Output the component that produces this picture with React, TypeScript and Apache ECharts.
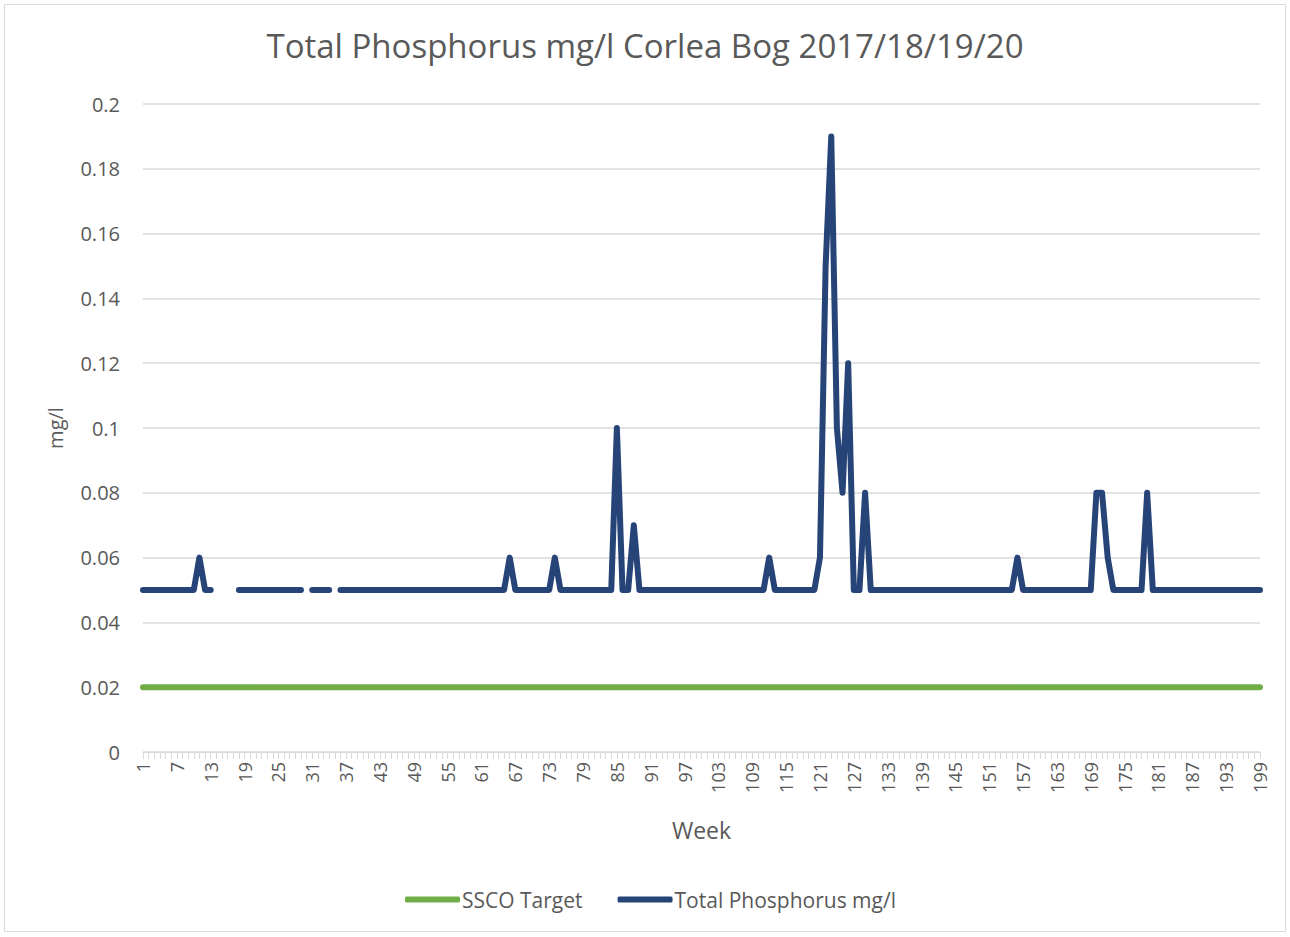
import React, { useEffect, useRef } from "react";
import * as echarts from "echarts";

const title = "Total Phosphorus mg/l Corlea Bog 2017/18/19/20";
const yAxisName = "mg/l";
const xAxisName = "Week";
const seriesNames = ["SSCO Target", "Total Phosphorus mg/l"];

// Weeks 1..199
const weeks: string[] = Array.from({ length: 199 }, (_, i) => String(i + 1));

// Total Phosphorus mg/l, weeks 1..199 (null = no sample)
const phosphorus: (number | null)[] = [
  0.05, 0.05, 0.05, 0.05, 0.05, 0.05, 0.05, 0.05, 0.05, 0.05, // 1-10
  0.06, 0.05, 0.05, null, null, null, null, 0.05, 0.05, 0.05, // 11-20
  0.05, 0.05, 0.05, 0.05, 0.05, 0.05, 0.05, 0.05, 0.05, null, // 21-30
  0.05, 0.05, 0.05, 0.05, null, 0.05, 0.05, 0.05, 0.05, 0.05, // 31-40
  0.05, 0.05, 0.05, 0.05, 0.05, 0.05, 0.05, 0.05, 0.05, 0.05, // 41-50
  0.05, 0.05, 0.05, 0.05, 0.05, 0.05, 0.05, 0.05, 0.05, 0.05, // 51-60
  0.05, 0.05, 0.05, 0.05, 0.05, 0.06, 0.05, 0.05, 0.05, 0.05, // 61-70
  0.05, 0.05, 0.05, 0.06, 0.05, 0.05, 0.05, 0.05, 0.05, 0.05, // 71-80
  0.05, 0.05, 0.05, 0.05, 0.1, 0.05, 0.05, 0.07, 0.05, 0.05, // 81-90
  0.05, 0.05, 0.05, 0.05, 0.05, 0.05, 0.05, 0.05, 0.05, 0.05, // 91-100
  0.05, 0.05, 0.05, 0.05, 0.05, 0.05, 0.05, 0.05, 0.05, 0.05, // 101-110
  0.05, 0.06, 0.05, 0.05, 0.05, 0.05, 0.05, 0.05, 0.05, 0.05, // 111-120
  0.06, 0.15, 0.19, 0.1, 0.08, 0.12, 0.05, 0.05, 0.08, 0.05, // 121-130
  0.05, 0.05, 0.05, 0.05, 0.05, 0.05, 0.05, 0.05, 0.05, 0.05, // 131-140
  0.05, 0.05, 0.05, 0.05, 0.05, 0.05, 0.05, 0.05, 0.05, 0.05, // 141-150
  0.05, 0.05, 0.05, 0.05, 0.05, 0.06, 0.05, 0.05, 0.05, 0.05, // 151-160
  0.05, 0.05, 0.05, 0.05, 0.05, 0.05, 0.05, 0.05, 0.05, 0.08, // 161-170
  0.08, 0.06, 0.05, 0.05, 0.05, 0.05, 0.05, 0.05, 0.08, 0.05, // 171-180
  0.05, 0.05, 0.05, 0.05, 0.05, 0.05, 0.05, 0.05, 0.05, 0.05, // 181-190
  0.05, 0.05, 0.05, 0.05, 0.05, 0.05, 0.05, 0.05, 0.05, // 191-199
];

// SSCO Target, weeks 1..199
const target: number[] = [
  0.02, 0.02, 0.02, 0.02, 0.02, 0.02, 0.02, 0.02, 0.02, 0.02,
  0.02, 0.02, 0.02, 0.02, 0.02, 0.02, 0.02, 0.02, 0.02, 0.02,
  0.02, 0.02, 0.02, 0.02, 0.02, 0.02, 0.02, 0.02, 0.02, 0.02,
  0.02, 0.02, 0.02, 0.02, 0.02, 0.02, 0.02, 0.02, 0.02, 0.02,
  0.02, 0.02, 0.02, 0.02, 0.02, 0.02, 0.02, 0.02, 0.02, 0.02,
  0.02, 0.02, 0.02, 0.02, 0.02, 0.02, 0.02, 0.02, 0.02, 0.02,
  0.02, 0.02, 0.02, 0.02, 0.02, 0.02, 0.02, 0.02, 0.02, 0.02,
  0.02, 0.02, 0.02, 0.02, 0.02, 0.02, 0.02, 0.02, 0.02, 0.02,
  0.02, 0.02, 0.02, 0.02, 0.02, 0.02, 0.02, 0.02, 0.02, 0.02,
  0.02, 0.02, 0.02, 0.02, 0.02, 0.02, 0.02, 0.02, 0.02, 0.02,
  0.02, 0.02, 0.02, 0.02, 0.02, 0.02, 0.02, 0.02, 0.02, 0.02,
  0.02, 0.02, 0.02, 0.02, 0.02, 0.02, 0.02, 0.02, 0.02, 0.02,
  0.02, 0.02, 0.02, 0.02, 0.02, 0.02, 0.02, 0.02, 0.02, 0.02,
  0.02, 0.02, 0.02, 0.02, 0.02, 0.02, 0.02, 0.02, 0.02, 0.02,
  0.02, 0.02, 0.02, 0.02, 0.02, 0.02, 0.02, 0.02, 0.02, 0.02,
  0.02, 0.02, 0.02, 0.02, 0.02, 0.02, 0.02, 0.02, 0.02, 0.02,
  0.02, 0.02, 0.02, 0.02, 0.02, 0.02, 0.02, 0.02, 0.02, 0.02,
  0.02, 0.02, 0.02, 0.02, 0.02, 0.02, 0.02, 0.02, 0.02, 0.02,
  0.02, 0.02, 0.02, 0.02, 0.02, 0.02, 0.02, 0.02, 0.02, 0.02,
  0.02, 0.02, 0.02, 0.02, 0.02, 0.02, 0.02, 0.02, 0.02,
];

const FONT = "'Open Sans', 'Noto Sans', sans-serif";
const TEXT = "#595959";
const GRID = "#d9d9d9";

export default function App() {
  const ref = useRef<HTMLDivElement>(null);

  useEffect(() => {
    if (!ref.current) return;
    const chart = echarts.init(ref.current, undefined, { renderer: "svg" });
    chart.setOption({
      animation: false,
      backgroundColor: "#ffffff",
      textStyle: { fontFamily: FONT },
      title: {
        text: title,
        left: "center",
        top: 24,
        textStyle: { fontFamily: FONT, fontSize: 33, fontWeight: "normal", color: TEXT },
      },
      graphic: [
        {
          type: "rect",
          shape: { x: 4.5, y: 4.5, width: 1281, height: 927 },
          style: { fill: "none", stroke: GRID, lineWidth: 1 },
          silent: true,
          z: -10,
        },
      ],
      legend: {
        bottom: 22,
        left: 400,
        icon: "roundRect",
        itemWidth: 55,
        itemHeight: 6,
        itemGap: 35,
        textStyle: { fontFamily: FONT, fontSize: 21, color: TEXT, padding: [0, 0, 0, -3] },
        data: seriesNames,
      },
      grid: { left: 143, right: 30, top: 104, bottom: 185, containLabel: false },
      xAxis: {
        type: "category",
        data: weeks,
        boundaryGap: false,
        name: xAxisName,
        nameLocation: "middle",
        nameGap: 66,
        nameTextStyle: { fontFamily: FONT, fontSize: 23, color: TEXT },
        axisLine: { lineStyle: { color: GRID, width: 1 } },
        axisTick: { show: true, interval: 0, length: 7, lineStyle: { color: GRID } },
        axisLabel: {
          interval: 5,
          rotate: 90,
          margin: 10,
          fontFamily: FONT,
          fontSize: 18,
          color: TEXT,
        },
        splitLine: { show: false },
      },
      yAxis: {
        type: "value",
        min: 0,
        max: 0.2,
        interval: 0.02,
        name: yAxisName,
        nameLocation: "middle",
        nameGap: 78,
        nameRotate: 90,
        nameTextStyle: { fontFamily: FONT, fontSize: 20, color: TEXT },
        axisLine: { show: false },
        axisTick: { show: false },
        axisLabel: { margin: 23, fontFamily: FONT, fontSize: 20, color: TEXT },
        splitLine: { lineStyle: { color: GRID, width: 1.5 } },
      },
      series: [
        {
          name: seriesNames[0],
          type: "line",
          data: target,
          symbol: "none",
          color: "#70ad47",
          lineStyle: { color: "#70ad47", width: 6, cap: "round", join: "round" },
          z: 2,
        },
        {
          name: seriesNames[1],
          type: "line",
          data: phosphorus,
          symbol: "none",
          connectNulls: false,
          color: "#264478",
          lineStyle: { color: "#264478", width: 6, cap: "round", join: "round" },
          z: 3,
        },
      ],
    });
    return () => chart.dispose();
  }, []);

  return (
    <div
      ref={ref}
      style={{ position: "fixed", left: 0, top: 0, width: 1290, height: 937, background: "#fff" }}
    />
  );
}
